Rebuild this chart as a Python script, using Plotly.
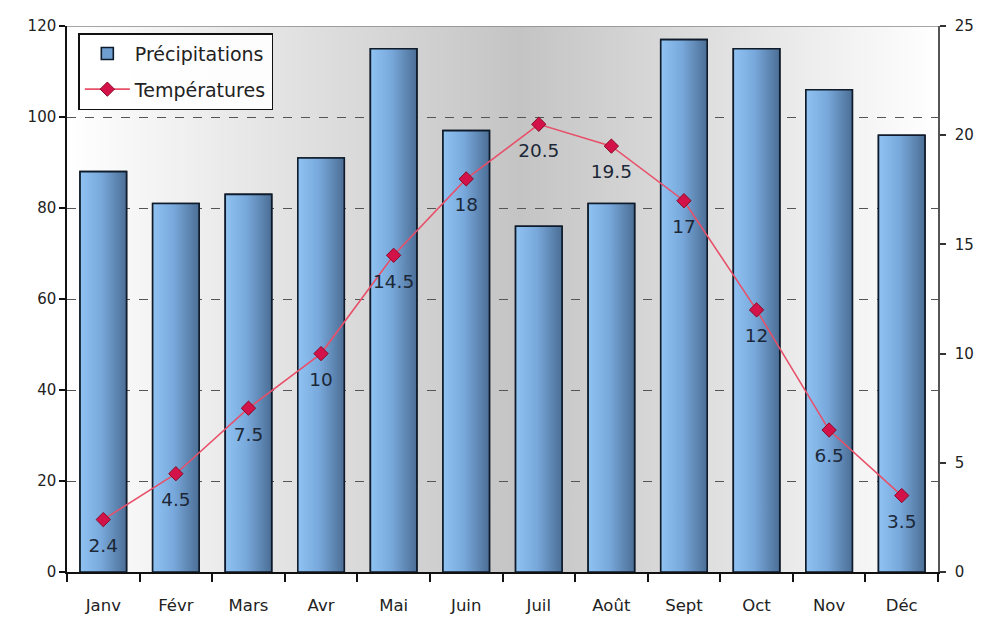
import base64
import plotly.graph_objects as go

# ---- data ----
months = ["Janv", "Févr", "Mars", "Avr", "Mai", "Juin", "Juil", "Août", "Sept", "Oct", "Nov", "Déc"]
precipitations = [88, 81, 83, 91, 115, 97, 76, 81, 117, 115, 106, 96]
temperatures = [2.4, 4.5, 7.5, 10, 14.5, 18, 20.5, 19.5, 17, 12, 6.5, 3.5]
temp_labels = ["2.4", "4.5", "7.5", "10", "14.5", "18", "20.5", "19.5", "17", "12", "6.5", "3.5"]

xpos = list(range(len(months)))
bw = 0.64
FONT = "DejaVu Sans, Verdana, sans-serif"

fig = go.Figure()

# base bar trace (legend + solid fill)
fig.add_trace(go.Bar(
    x=xpos, y=precipitations, width=bw, name="Précipitations", legendgroup="a",
    marker=dict(color="#6f9fd0", line=dict(color="#0f1b2a", width=1.6)),
    yaxis="y", xaxis="x", hoverinfo="skip",
))

# gradient overlays for each bar, built from the same data
for i, v in zip(xpos, precipitations):
    fig.add_trace(go.Scatter(
        x=[i - bw / 2, i + bw / 2, i + bw / 2, i - bw / 2, i - bw / 2],
        y=[0, 0, v, v, 0],
        mode="lines", fill="toself",
        fillgradient=dict(type="horizontal",
                          colorscale=[[0, "#8fc3f2"], [0.45, "#79a9dc"], [1, "#4b6e95"]]),
        line=dict(color="#0f1b2a", width=1.6),
        showlegend=False, hoverinfo="skip", xaxis="x", yaxis="y",
    ))

# temperature line
fig.add_trace(go.Scatter(
    x=xpos, y=temperatures, name="Températures", mode="lines+markers", legendgroup="b",
    line=dict(color="#e8506a", width=1.6),
    marker=dict(symbol="diamond", size=11, color="#d3124a", line=dict(color="#8a0825", width=1)),
    yaxis="y2", xaxis="x",
))
# temperature labels
fig.add_trace(go.Scatter(
    x=xpos, y=temperatures, mode="markers+text", text=temp_labels,
    textposition="bottom center",
    textfont=dict(family=FONT, size=18.5, color="#1c2838"),
    marker=dict(size=28, color="rgba(0,0,0,0)"),
    showlegend=False, hoverinfo="skip", yaxis="y2", xaxis="x",
))

# background gradient
svg = ('<svg xmlns="http://www.w3.org/2000/svg" width="100" height="100" preserveAspectRatio="none">'
       '<defs><linearGradient id="g" x1="0" y1="0" x2="1" y2="0">'
       '<stop offset="0" stop-color="#ffffff"/><stop offset="0.52" stop-color="#c4c4c4"/>'
       '<stop offset="1" stop-color="#ffffff"/></linearGradient></defs>'
       '<rect width="100" height="100" fill="url(#g)"/></svg>')
uri = "data:image/svg+xml;base64," + base64.b64encode(svg.encode()).decode()

fig.update_layout(
    width=986, height=617,
    margin=dict(l=67, r=48, t=26, b=45),
    paper_bgcolor="white", plot_bgcolor="rgba(0,0,0,0)",
    font=dict(family=FONT, size=15, color="#222222"),
    showlegend=True, barmode="overlay",
    images=[dict(source=uri, xref="paper", yref="paper", x=0, y=1, sizex=1, sizey=1,
                 sizing="stretch", layer="below", xanchor="left", yanchor="top")],
    xaxis=dict(range=[-0.5, 11.5], tickvals=[i - 0.5 for i in range(13)], automargin=False,
               ticktext=[""] * 13, ticks="outside", ticklen=8, tickwidth=1.5, tickcolor="#111",
               showline=True, linecolor="#111", linewidth=1.5, showgrid=False, zeroline=False),
    xaxis2=dict(range=[-0.5, 11.5], overlaying="x", side="bottom", anchor="y", automargin=False,
                tickvals=xpos, ticktext=months, ticks="", showline=False, showgrid=False,
                zeroline=False, ticklabelstandoff=21, tickfont=dict(size=16.5, color="#222")),
    yaxis=dict(range=[0, 120], dtick=20, ticks="outside", ticklen=6, tickwidth=1.5, tickcolor="#111",
               showline=True, linecolor="#111", linewidth=1.5, showgrid=True, automargin=False,
               gridcolor="#555555", griddash="dash", gridwidth=1, zeroline=False,
               tickfont=dict(size=15, color="#222")),
    yaxis2=dict(range=[0, 25], dtick=5, overlaying="y", side="right", ticks="outside", ticklen=6,
                tickwidth=1.5, tickcolor="#333", showline=True, linecolor="#555", linewidth=1.5,
                showgrid=False, zeroline=False, ticklabelstandoff=6, automargin=False,
                tickfont=dict(size=15, color="#222")),
    legend=dict(x=0.013, y=0.987, xanchor="left", yanchor="top", bgcolor="rgba(255,255,255,0.9)",
                bordercolor="#111", borderwidth=1.5, font=dict(size=19, color="#222"),
                traceorder="grouped", tracegroupgap=8, itemwidth=45),
    shapes=[dict(type="line", xref="paper", yref="y", x0=0, x1=1, y0=120, y1=120,
                 line=dict(color="#888888", width=1.5), layer="above")],
)

# dummy trace to make xaxis2 render labels
fig.add_trace(go.Scatter(x=[None], y=[None], xaxis="x2", yaxis="y", showlegend=False, hoverinfo="skip"))

fig.write_html("out.html")
